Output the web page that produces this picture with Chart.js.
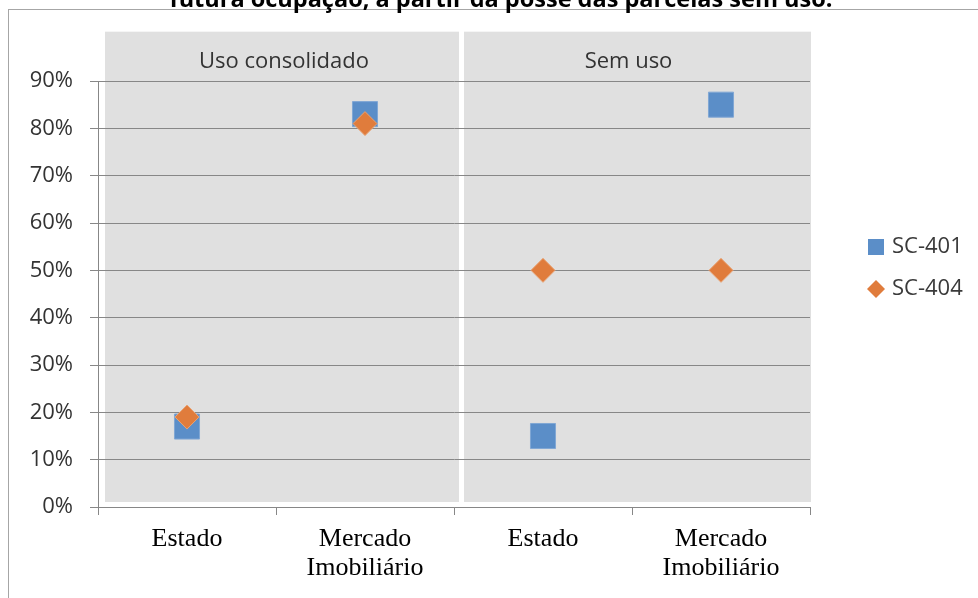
<!DOCTYPE html>
<html lang="pt">
<head>
<meta charset="utf-8">
<script src="https://cdn.jsdelivr.net/npm/chart.js@4.4.1/dist/chart.umd.min.js"></script>
<style>
  html, body { margin: 0; padding: 0; background: #fff; overflow: hidden; }
  body { width: 978px; height: 598px; position: relative; }
  .moldura { position: absolute; left: 8px; top: 9px; width: 1000px; height: 620px; border: 1px solid #a6a6a6; }
  .grafico { position: absolute; left: 0; top: -12px; width: 978px; height: 620px; }
</style>
</head>
<body>
<div class="moldura"></div>
<div class="grafico"><canvas id="posse"></canvas></div>
<script>
// =========================
// DADOS
// =========================

const categorias = ["Estado", ["Mercado", "Imobiliário"], "Estado", ["Mercado", "Imobiliário"]];
const grupos = ["Uso consolidado", "Sem uso"];
const series = ["SC-401", "SC-404"];
const sc401 = [0.17, 0.83, 0.15, 0.85];
const sc404 = [0.19, 0.81, 0.50, 0.50];
const titulo = "futura ocupação, a partir da posse das parcelas sem uso.";

const azul = "#5b8ec8";
const laranja = "#e07c3c";
const cinzaLinha = "#878787";


// =========================
// PAINÉIS, TÍTULO E LEGENDA
// =========================

const paineis = {
    id: "paineis",

    beforeDraw(chart) {
        const ctx = chart.ctx;
        const area = chart.chartArea;
        const x = chart.scales.x;
        const y = chart.scales.y;

        const meio = x.getPixelForValue(1.5);
        const topo = y.getPixelForValue(1) - 2;
        const base = area.bottom - 5;

        const caixas = [
            [area.left + 7, meio + 5],
            [meio + 10, area.right + 1]
        ];

        ctx.save();
        ctx.fillStyle = "#e0e0e0";
        caixas.forEach(([a, b]) => ctx.fillRect(a, topo, b - a, base - topo));

        ctx.fillStyle = "#333333";
        ctx.font = "22px 'Open Sans'";
        ctx.textAlign = "center";
        ctx.textBaseline = "middle";
        ctx.fillText(grupos[0], (caixas[0][0] + caixas[0][1]) / 2 + 2, topo + 30);
        ctx.fillText(grupos[1], (caixas[1][0] + caixas[1][1]) / 2 - 9, topo + 30);

        // título (cortado no topo, como no original)
        ctx.fillStyle = "#000000";
        ctx.font = "bold 23.5px 'Open Sans'";
        ctx.textBaseline = "alphabetic";
        ctx.fillText(titulo, 501, 19);
        ctx.restore();
    },

    afterDraw(chart) {
        const ctx = chart.ctx;
        const area = chart.chartArea;
        const cx = area.right + 66;
        let cy = area.top + 166;

        ctx.save();
        ctx.font = "22px 'Open Sans'";
        ctx.textBaseline = "middle";
        ctx.textAlign = "left";

        chart.data.datasets.forEach(ds => {
            ctx.fillStyle = ds.backgroundColor;
            ctx.beginPath();
            if (ds.pointStyle === "rect") {
                ctx.rect(cx - 8, cy - 8, 16, 16);
            } else {
                ctx.moveTo(cx - 9, cy);
                ctx.lineTo(cx, cy - 9);
                ctx.lineTo(cx + 9, cy);
                ctx.lineTo(cx, cy + 9);
                ctx.closePath();
            }
            ctx.fill();

            ctx.fillStyle = "#3a3a3a";
            ctx.fillText(ds.label, cx + 16, cy);
            cy += 42;
        });
        ctx.restore();
    }
};


// =========================
// GRÁFICO
// =========================

new Chart(document.getElementById("posse"), {

    type: "line",

    data: {
        labels: categorias,
        datasets: [
            {
                label: series[0],
                data: sc401,
                showLine: false,
                pointStyle: "rect",
                pointRadius: 17.7,
                pointHoverRadius: 17.7,
                backgroundColor: azul,
                borderColor: "#80a7d4",
                borderWidth: 1,
                order: 2
            },
            {
                label: series[1],
                data: sc404,
                showLine: false,
                pointStyle: "rectRot",
                pointRadius: 12,
                pointHoverRadius: 12,
                backgroundColor: laranja,
                borderColor: "#e9a272",
                borderWidth: 1,
                order: 1
            }
        ]
    },

    options: {
        responsive: true,
        maintainAspectRatio: false,
        animation: false,

        layout: {
            padding: { left: 0, right: 168, top: 93, bottom: 15 }
        },

        plugins: {
            legend: { display: false },
            tooltip: { enabled: false },
            title: { display: false }
        },

        scales: {
            x: {
                offset: true,
                grid: {
                    offset: true,
                    drawOnChartArea: false,
                    tickLength: 8,
                    color: cinzaLinha
                },
                border: { color: cinzaLinha },
                ticks: {
                    padding: 10,
                    color: "#000000",
                    maxRotation: 0,
                    font: { family: "'Liberation Serif'", size: 26, lineHeight: "29px" }
                }
            },

            y: {
                min: 0,
                max: 0.9,
                afterFit: scale => { scale.width = 98; },
                grid: {
                    color: cinzaLinha,
                    tickLength: 8
                },
                border: { color: cinzaLinha },
                ticks: {
                    stepSize: 0.1,
                    padding: 17,
                    color: "#333333",
                    font: { family: "'Open Sans'", size: 22 },
                    callback: value => Math.round(value * 100) + "%"
                }
            }
        }
    },

    plugins: [paineis]
});
</script>
</body>
</html>
